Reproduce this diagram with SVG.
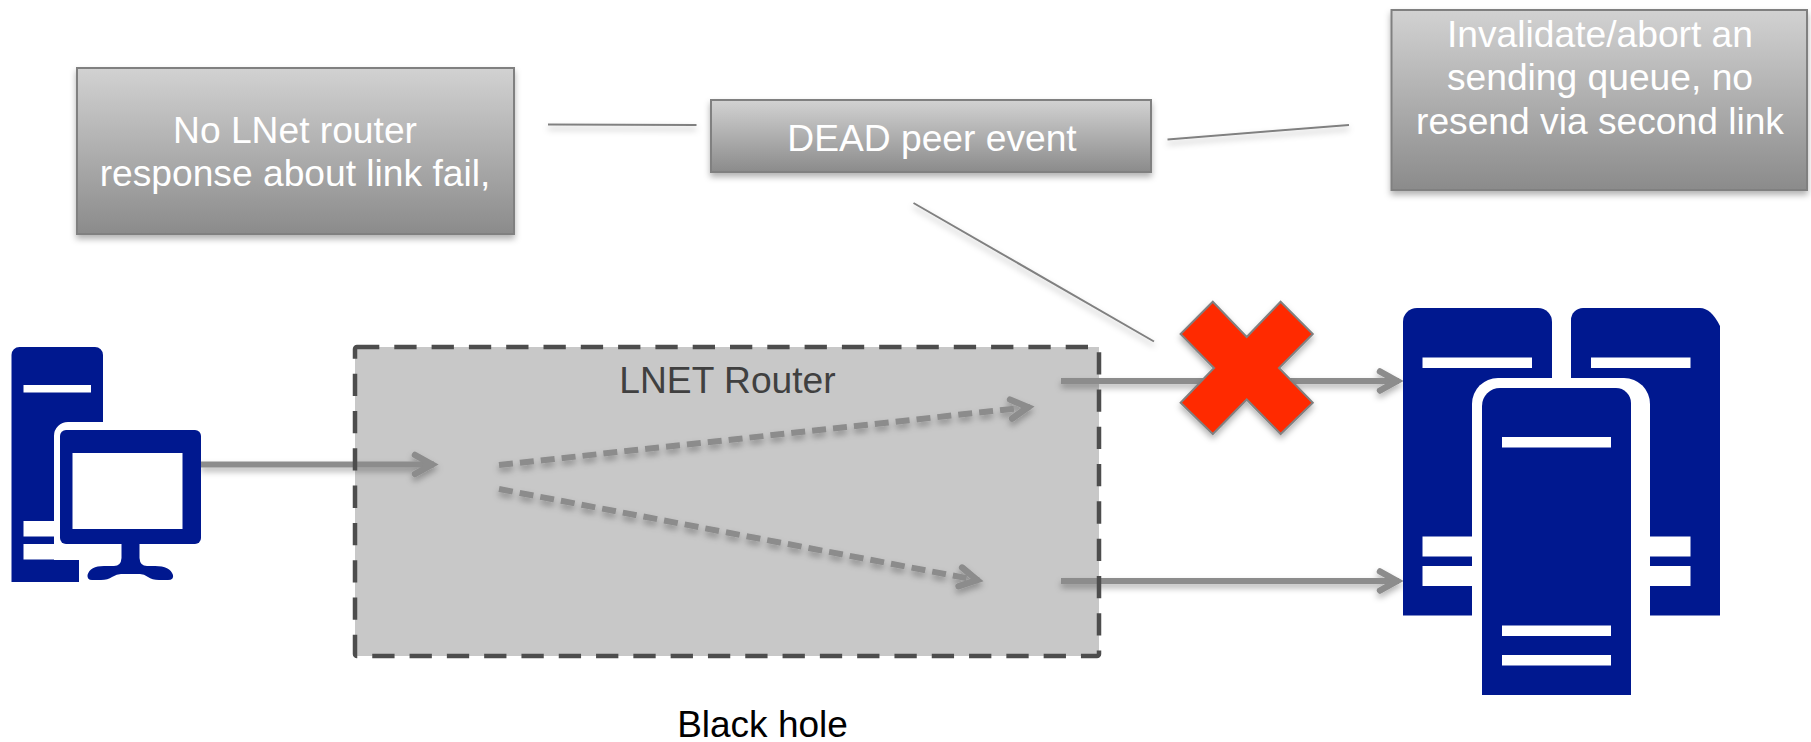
<svg xmlns="http://www.w3.org/2000/svg" width="1811" height="742" viewBox="0 0 1811 742">
<style>
.t{font-family:"Liberation Sans",Arial,sans-serif;font-size:37.200px;text-anchor:middle;fill:#fff}
.box{fill:url(#g);stroke:#808080;stroke-width:2;filter:url(#s)}
.ln{fill:none;stroke:#808080;stroke-width:2;filter:url(#s)}
.ar{fill:none;stroke:#8c8c8c;stroke-width:6;filter:url(#s)}
.da{stroke-dasharray:14 7}
.ic{fill:#00188f}
.w{fill:#fff}
</style>
<defs>
<linearGradient id="g" x1="0" y1="0" x2="0" y2="1"><stop offset="0" stop-color="#d2d2d2"/><stop offset="1" stop-color="#8b8b8b"/></linearGradient>
<filter id="s" x="0" y="0" width="1811" height="742" filterUnits="userSpaceOnUse" primitiveUnits="userSpaceOnUse"><feDropShadow dx="0" dy="4" stdDeviation="3" flood-color="#000" flood-opacity=".3"/></filter>
<marker id="a" markerUnits="userSpaceOnUse" markerWidth="30" markerHeight="30" refX="22" refY="12" orient="auto" overflow="visible"><path d="M3 2.500L20 12L3 21.500" fill="none" stroke="#8c8c8c" stroke-width="6.500" stroke-linecap="round" stroke-linejoin="miter"/></marker>
</defs>
<rect width="1811" height="742" fill="#fff"/>
<g id="router"><rect x="355" y="347" width="744" height="309" fill="#c8c8c8"/></g>
<g id="box-no-response"><rect class="box" x="77" y="68" width="437" height="166"/>
<text class="t" x="295" y="143">No LNet router</text><text class="t" x="295" y="186">response about link fail,</text></g>
<g id="box-dead-peer"><rect class="box" x="711" y="100" width="440" height="72"/>
<text class="t" x="932" y="150.500">DEAD peer event</text></g>
<g id="box-invalidate"><rect class="box" x="1391.500" y="10" width="415.500" height="180"/>
<text class="t" x="1600" y="47">Invalidate/abort an</text><text class="t" x="1600" y="90">sending queue, no</text><text class="t" x="1600" y="134">resend via second link</text></g>
<g id="connectors">
<path class="ln" d="M548 124.500L696.500 125"/>
<path class="ln" d="M1167.500 139.500L1349 125"/>
<path class="ln" d="M913.500 203L1154 341.500"/>
<path class="ar" d="M201 464.500H434" marker-end="url(#a)"/>
<path class="ar da" d="M499 465L1030 407" marker-end="url(#a)"/>
<path class="ar da" d="M499 489L979 580.500" marker-end="url(#a)"/>
<path class="ar" d="M1061 381H1399" marker-end="url(#a)"/>
<path class="ar" d="M1061 581H1399" marker-end="url(#a)"/>
</g>
<g id="router-outline"><rect x="355" y="347" width="744" height="309" rx="2" fill="none" stroke="#4d4d4d" stroke-width="4.500" stroke-dasharray="22.300 15"/>
<text class="t" x="727.500" y="393" style="fill:#404040">LNET Router</text></g>
<g id="failure-x"><path d="M1212.800 301.700L1246.700 337L1280.600 301.700L1312.800 334L1279 368L1312.800 402.700L1280.600 434L1246.700 399.500L1212.800 434L1180.600 402.700L1214 368L1180.600 334Z" fill="#ff2a00" stroke="#808080" stroke-width="2" filter="url(#s)"/></g>
<g id="client">
<path class="ic" d="M11.500 582V355a8 8 0 0 1 8-8H95a8 8 0 0 1 8 8V582Z"/>
<rect class="w" x="23.500" y="385" width="67.500" height="7.500"/>
<rect class="w" x="23.500" y="521" width="40" height="15.500"/><rect class="w" x="23.500" y="544" width="70" height="15.500"/>
<path class="w" d="M54 560V436a14 14 0 0 1 14-14H103V430H201V560H92a13 13 0 0 0-13 13V582H103V560Z"/>
<rect class="w" x="79" y="560" width="100" height="22"/>
<rect class="ic" x="60" y="430" width="141" height="114" rx="6"/>
<rect class="w" x="72.500" y="453" width="110" height="76"/>
<path class="ic" d="M121.500 544H139.500V558Q140 566 147 566H155Q170 566 173 575Q174 580 168 580H159Q152 580 148 577Q144 574 140 574H121Q117 574 112 577Q108 580 101 580H92Q87 580 87.500 575Q90 566 104 566H114Q121 566 121.500 558Z"/>
</g>
<g id="servers">
<path class="ic" d="M1403 615.500V322a14 14 0 0 1 14-14H1538a14 14 0 0 1 14 14V615.500Z"/>
<path class="ic" d="M1571 615.500V320a12 12 0 0 1 12-12H1700Q1711 308 1720 326V615.500Z"/>
<rect class="w" x="1422.500" y="357.500" width="109.500" height="10.500"/>
<rect class="w" x="1591" y="357.500" width="99.500" height="10.500"/>
<rect class="w" x="1422.500" y="536.500" width="60" height="20"/><rect class="w" x="1422.500" y="566" width="60" height="20"/>
<rect class="w" x="1640" y="536.500" width="50.500" height="20"/><rect class="w" x="1640" y="566" width="50.500" height="20"/>
<path class="w" d="M1472 700V404a26 26 0 0 1 26-26H1624a26 26 0 0 1 26 26V700Z"/>
<path class="ic" d="M1482 695V406a18 18 0 0 1 18-18H1616a15 15 0 0 1 15 15V695Z"/>
<rect class="w" x="1502" y="437" width="109" height="10.500"/>
<rect class="w" x="1502" y="625.500" width="109" height="10.500"/>
<rect class="w" x="1502" y="655" width="109" height="10.500"/>
</g>
<g id="caption"><text class="t" x="762.500" y="737" style="fill:#000;font-size:37px">Black hole</text></g>
</svg>
